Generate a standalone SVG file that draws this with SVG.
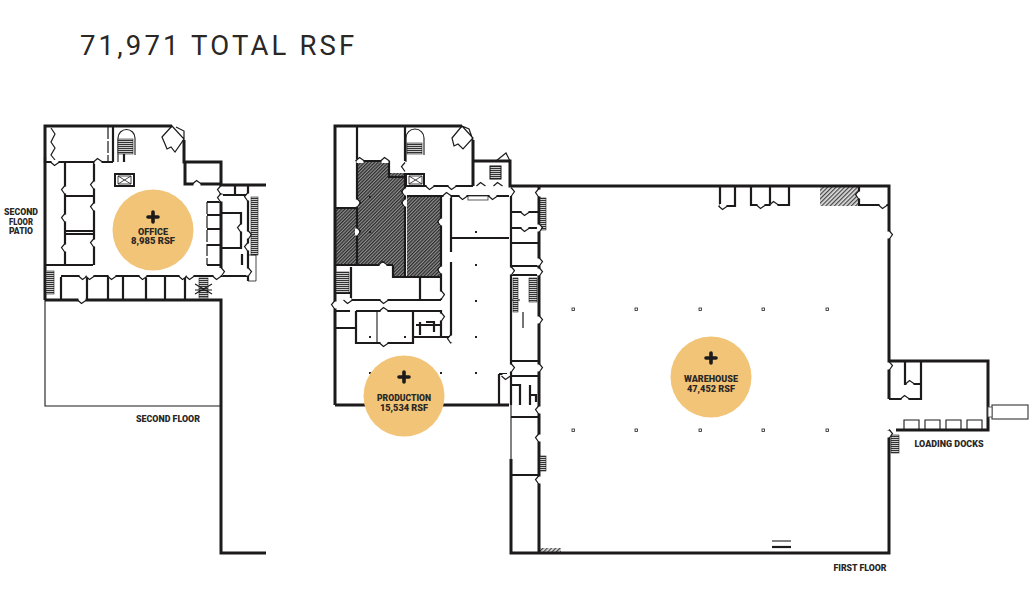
<svg xmlns="http://www.w3.org/2000/svg" width="1031" height="610" viewBox="0 0 1031 610">
<style>
text{font-family:"Roboto","Liberation Sans",sans-serif;fill:#2a2725;font-weight:900;text-anchor:middle;font-size:9px}
.w,.m,.n,.d,.s{fill:none;stroke:#1c1a1a;stroke-linejoin:miter}
.w{stroke-width:3}.m{stroke-width:2.2}.n{stroke-width:1.1}.d{stroke-width:1.2}.s{stroke-width:.8}
.dash{stroke-dasharray:12 2}
.c{fill:#f2c477}
.p{fill:none;stroke:#1c1a1a;stroke-width:3.600;stroke-linecap:round}
.col{fill:#fff;stroke:#222;stroke-width:.8}
.tr{stroke:#222;stroke-width:.6}
</style>
<defs>
<pattern id="dark" width="2.400" height="2.400" patternUnits="userSpaceOnUse" patternTransform="rotate(-45)"><rect width="2.400" height="2.400" fill="#8f8f8f"/><rect width="2.400" height="1.200" fill="#2b2b2b"/></pattern>
<pattern id="light" width="3" height="3" patternUnits="userSpaceOnUse" patternTransform="rotate(-45)"><rect width="3" height="3" fill="#ddd"/><rect width="3" height="1.200" fill="#444"/></pattern>
<pattern id="tread" width="4" height="2" patternUnits="userSpaceOnUse"><rect width="4" height="2" fill="#ccc"/><rect width="4" height="1" fill="#333"/></pattern>
<g id="dl"><path d="M0 -3.500V3.500" stroke="#fff" stroke-width="4" fill="none"/><path d="M0 -4.500L-3.500 -.5L0 4.500" class="d"/></g>
<g id="dr"><path d="M0 -3.500V3.500" stroke="#fff" stroke-width="4" fill="none"/><path d="M0 -4.500L3.500 -.5L0 4.500" class="d"/></g>
<g id="du"><path d="M-3.500 0H3.500" stroke="#fff" stroke-width="4" fill="none"/><path d="M-4.500 0L-.5 -3.500L4.500 0" class="d"/></g>
<g id="dd"><path d="M-3.500 0H3.500" stroke="#fff" stroke-width="4" fill="none"/><path d="M-4.500 0L-.5 3.500L4.500 0" class="d"/></g>
</defs>
<rect width="1031" height="610" fill="#fff"/>
<text x="80" y="55" style="font-size:27.500px;font-weight:400;text-anchor:start;letter-spacing:3.150px">71,971 TOTAL RSF</text>

<g id="second-floor">
<path class="w" d="M45 300V126H172M184 140V162H221V184M185 162V184H221M221 185H266M221 185V268M45 300H221V553H266"/>
<path class="n" d="M45 300V406H221"/>
<path class="m" d="M113 126V162M45 157V162H113M124 162V154M65 162V265M94 162V265M65 162H93M65 196H93M65 231H93M65 234H93M65 265H93M45 265H65M61 277V300M61 276H221M87 277V299M108 277V299M123 277V299M146 277V299M165 277V299M185 277V299"/>
<path class="m" d="M207 202H221M207 215H221M207 229H221M207 245H221M207 265H221M221 195H248M222 213H241V248H222M235 185V195M248 185V281M221 270V276H248M242 254V265"/>
<path class="d dash" d="M108 127V161M207 202V265"/>
<path class="d" d="M184 140V131L176 127M162 137L172 126L184 139L175 152L171 147L167 149L165 144Z"/>
<path class="d" d="M51 128L55 134L51 142L55 148L51 155L55 160"/>
<path class="n" d="M118 162V138A8.500 8.500 0 0 1 135 138V155"/>
<rect class="tr" x="118" y="139" width="15" height="15" fill="url(#tread)"/>
<rect class="tr" x="251" y="197" width="7" height="58" fill="url(#tread)"/>
<rect class="tr" x="46" y="271" width="8" height="23" fill="url(#tread)"/>
<rect class="tr" x="199" y="278" width="9" height="20" fill="url(#tread)"/>
<path class="d" d="M195 290L212 290M195 284L212 294M212 284L195 294"/>
<path class="s" d="M248 255H256V281H248"/>
<rect x="115" y="174" width="19" height="12" fill="#fff" stroke="#1c1a1a" stroke-width="2"/>
<path class="s" d="M118 176L131 184M131 176L118 184M118 176H131V184H118Z"/>
<use href="#dl" x="65" y="190"/><use href="#dl" x="65" y="218"/><use href="#dl" x="65" y="248"/>
<use href="#dl" x="94" y="185"/><use href="#dl" x="94" y="207"/><use href="#dl" x="94" y="243"/>
<use href="#du" x="98" y="162"/><use href="#dd" x="55" y="162"/><use href="#du" x="197" y="184"/>
<use href="#dl" x="221" y="190"/><use href="#dl" x="221" y="198"/><use href="#dl" x="248" y="197"/>
<use href="#dl" x="241" y="228"/><use href="#dr" x="248" y="235"/><use href="#dl" x="248" y="247"/>
<use href="#dr" x="221" y="272"/><use href="#dr" x="248" y="272"/>
<use href="#dd" x="83" y="276"/><use href="#dd" x="90" y="276"/><use href="#dd" x="112" y="276"/><use href="#dd" x="143" y="276"/><use href="#dd" x="183" y="276"/><use href="#dd" x="190" y="276"/><use href="#dd" x="217" y="276"/>
<use href="#dd" x="82" y="300"/>
<circle class="c" cx="153" cy="230" r="40.500"/>
<path class="p" d="M153 212V222M148 217H158"/>
<text x="153" y="235" textLength="30" lengthAdjust="spacingAndGlyphs">OFFICE</text>
<text x="153" y="244" textLength="44" lengthAdjust="spacingAndGlyphs">8,985 RSF</text>
<text x="21" y="215" textLength="34" lengthAdjust="spacingAndGlyphs" style="font-size:8.500px">SECOND</text>
<text x="21" y="225" textLength="24" lengthAdjust="spacingAndGlyphs" style="font-size:8.500px">FLOOR</text>
<text x="21" y="234" textLength="24" lengthAdjust="spacingAndGlyphs" style="font-size:8.500px">PATIO</text>
<text x="168" y="422" textLength="64" lengthAdjust="spacingAndGlyphs" style="font-size:8.500px">SECOND FLOOR</text>
</g>

<g id="first-floor-hatch">
<path d="M357 161H389V173H405V277H393V265H357Z" fill="url(#dark)"/>
<rect x="336" y="208" width="21" height="57" fill="url(#dark)"/>
<path d="M407 197H441V276H407Z" fill="url(#dark)"/>
<rect x="820" y="187" width="38" height="19" fill="url(#light)"/>
<rect x="539" y="548" width="22" height="5" fill="url(#light)"/>
</g>

<g id="first-floor">
<path class="w" d="M335 405V126H462M473 140V186M473 161H510V186H889V361H988V430H896M889 361V399M889 430V553H511V459M539 187V553M335 405H509"/>
<path class="n" d="M511 405V459"/>
<path class="m" d="M357 127V265M405 127V161M336 208H357M357 161H389M389 161V177H405M405 173V277H393V265M336 265H393M405 186H473M451 196V252M451 262V343M407 196H509M451 238H509"/>
<path class="m" d="M511 196V405M511 212H538M511 228H538M511 243H538M511 266H538M511 275H538M511 361H538M511 376H538M499 374V405M499 374H507M511 417H538M511 475H538"/>
<path class="m" d="M441 196V276M393 277H441M441 276V300M420 277V300M351 267V300H441M336 311H350M356 311V343H413V311M356 311H441V337M413 337H451M336 328H356M336 293H351"/>
<path class="m" d="M720 187V206H735V187M751 187V205H789V187M770 187V205M859 187V205H889"/>
<path class="n" d="M377 311V343"/>
<path class="m" d="M905 362V384H921V362M889 399H921V384"/>
<path class="n" d="M904 429V420H919V429M925 429V420H940V429M946 429V420H961V429M967 429V420H982V429"/>
<rect x="992" y="405" width="36" height="14" fill="#fff" stroke="#444" stroke-width="1.200"/>
<rect x="988" y="407" width="4" height="10" fill="#fff" stroke="#555" stroke-width=".9"/>
<path class="m" d="M772 547H791"/><path class="n" d="M772 541H791"/>
<path class="d" d="M452 138L462 126L473 138L463 149L458 144L454 146Z M462 126L469 129L473 140"/>
<path class="d" d="M496 161L506 153L510 161"/>
<path class="m" d="M416 325H441M426 322H434V332M420 322V335M511 385H520V405M530 395H536V402M530 385V405"/>
<path class="d" d="M523 312V328M511 300H520"/>
<path class="n" d="M406 162V138A8.500 8.500 0 0 1 424 138V155"/>
<rect class="tr" x="407" y="143" width="15" height="11" fill="url(#tread)"/>
<rect class="tr" x="540" y="198" width="6" height="32" fill="url(#tread)"/>
<rect class="tr" x="336" y="272" width="13" height="21" fill="url(#tread)"/>
<rect class="tr" x="513" y="278" width="5" height="34" fill="url(#tread)"/>
<rect class="tr" x="529" y="278" width="8" height="24" fill="url(#tread)"/>
<rect class="tr" x="540" y="456" width="6" height="15" fill="url(#tread)"/>
<rect class="tr" x="891" y="435" width="8" height="18" fill="url(#tread)"/>
<rect x="490" y="166" width="11" height="13" fill="url(#tread)" stroke="#111" stroke-width="1"/>
<rect x="406" y="174" width="18" height="12" fill="#fff" stroke="#1c1a1a" stroke-width="2"/>
<path class="s" d="M409 176L422 184M422 176L409 184M409 176H422V184H409Z"/>
<rect x="468" y="196" width="20" height="4" fill="#fff" stroke="#333" stroke-width=".8"/>
<use href="#du" x="360" y="161"/><use href="#du" x="385" y="161"/><use href="#dl" x="405" y="167"/><use href="#dl" x="405" y="192"/><use href="#dl" x="405" y="203"/><use href="#dl" x="441" y="222"/><use href="#dl" x="441" y="270"/><use href="#dr" x="357" y="203"/><use href="#dr" x="357" y="232"/><use href="#du" x="383" y="265"/>
<use href="#dd" x="430" y="186"/><use href="#dd" x="452" y="186"/><use href="#du" x="481" y="186"/><use href="#du" x="498" y="186"/>
<use href="#du" x="447" y="196"/><use href="#dd" x="463" y="196"/><use href="#dd" x="493" y="196"/><use href="#dd" x="525" y="212"/><use href="#dd" x="525" y="228"/>
<use href="#dr" x="511" y="192"/><use href="#dl" x="539" y="193"/><use href="#dr" x="539" y="228"/><use href="#dr" x="539" y="262"/><use href="#dr" x="511" y="271"/><use href="#dr" x="539" y="272"/><use href="#dr" x="539" y="320"/><use href="#dr" x="511" y="368"/><use href="#dr" x="539" y="368"/><use href="#dd" x="506" y="376"/><use href="#dl" x="539" y="410"/><use href="#dl" x="539" y="438"/><use href="#dl" x="539" y="480"/>
<use href="#dd" x="348" y="300"/><use href="#dl" x="335" y="305"/><use href="#dd" x="384" y="300"/><use href="#du" x="384" y="311"/><use href="#dd" x="384" y="343"/><use href="#dr" x="441" y="295"/><use href="#dr" x="441" y="317"/><use href="#dl" x="451" y="339"/>
<use href="#dd" x="723" y="206"/><use href="#dd" x="761" y="205"/><use href="#du" x="774" y="205"/><use href="#dd" x="883" y="205"/><use href="#dr" x="889" y="235"/><use href="#dl" x="859" y="195"/><use href="#dr" x="889" y="366"/><use href="#du" x="905" y="399"/><use href="#du" x="910" y="384"/><use href="#dr" x="889" y="434"/>
<g fill="#222"><rect x="369" y="196" width="2" height="2"/><rect x="369" y="231" width="2" height="2"/><rect x="475" y="231" width="2" height="2"/><rect x="475" y="264" width="2" height="2"/><rect x="475" y="300" width="2" height="2"/><rect x="475" y="336" width="2" height="2"/><rect x="475" y="372" width="2" height="2"/><rect x="369" y="336" width="2" height="2"/><rect x="404" y="336" width="2" height="2"/><rect x="369" y="372" width="2" height="2"/><rect x="440" y="372" width="2" height="2"/></g>
<g class="col"><rect x="572" y="308" width="2.500" height="2.500"/><rect x="635" y="308" width="2.500" height="2.500"/><rect x="699" y="308" width="2.500" height="2.500"/><rect x="762" y="308" width="2.500" height="2.500"/><rect x="826" y="308" width="2.500" height="2.500"/><rect x="572" y="429" width="2.500" height="2.500"/><rect x="635" y="429" width="2.500" height="2.500"/><rect x="699" y="429" width="2.500" height="2.500"/><rect x="762" y="429" width="2.500" height="2.500"/><rect x="826" y="429" width="2.500" height="2.500"/></g>
<circle class="c" cx="404" cy="396" r="40.500"/>
<path class="p" d="M404 372V382M399 377H409"/>
<text x="404" y="401" textLength="54" lengthAdjust="spacingAndGlyphs">PRODUCTION</text>
<text x="404" y="411" textLength="48" lengthAdjust="spacingAndGlyphs">15,534 RSF</text>
<circle class="c" cx="711" cy="377" r="40.500"/>
<path class="p" d="M711 353V363M706 358H716"/>
<text x="711" y="382" textLength="54" lengthAdjust="spacingAndGlyphs">WAREHOUSE</text>
<text x="711" y="392" textLength="48" lengthAdjust="spacingAndGlyphs">47,452 RSF</text>
<text x="949" y="447" textLength="69" lengthAdjust="spacingAndGlyphs">LOADING DOCKS</text>
<text x="860" y="571" textLength="53" lengthAdjust="spacingAndGlyphs">FIRST FLOOR</text>
</g>
</svg>
